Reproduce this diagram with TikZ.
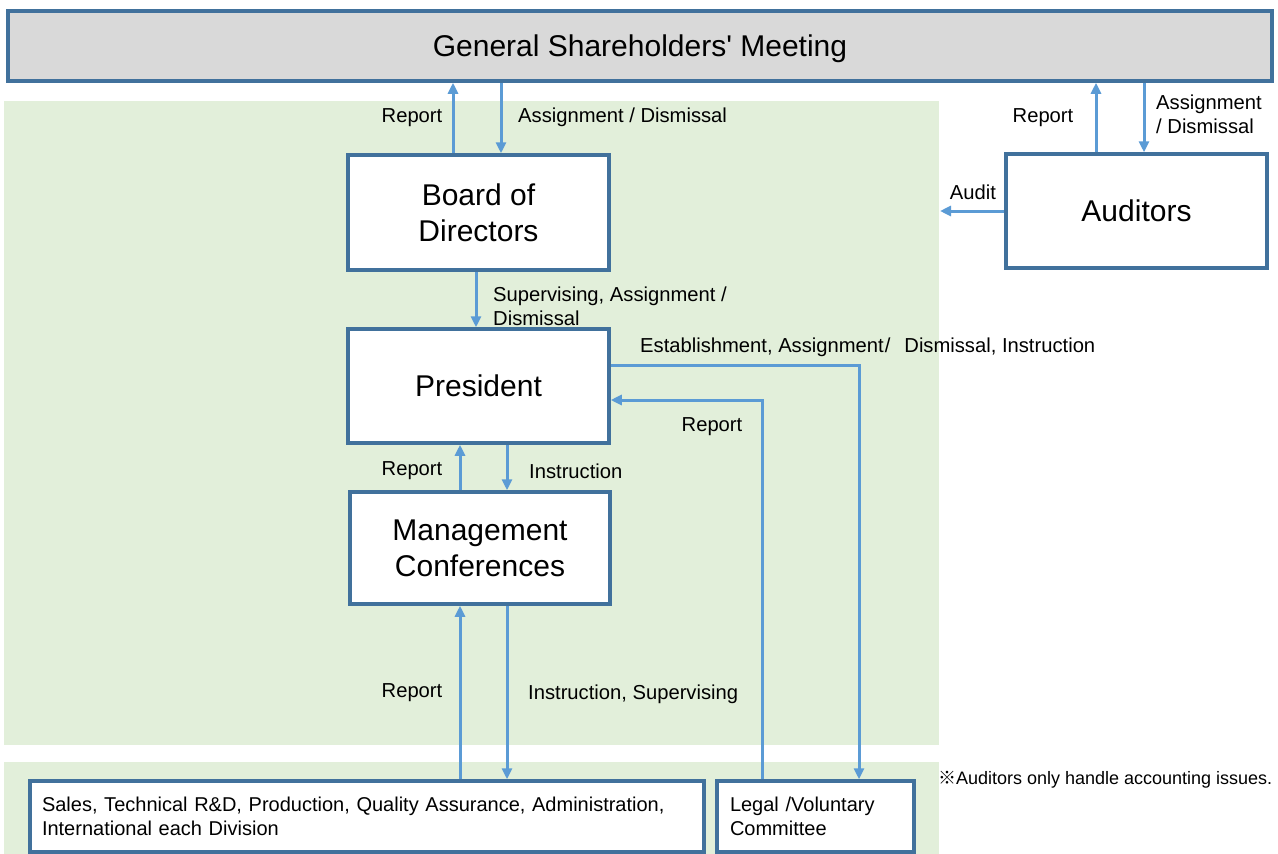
\documentclass[tikz,border=0pt]{standalone}
\usepackage{fontspec}
\setmainfont{Liberation Sans}
\newfontfamily\cjkfont{Noto Sans CJK JP}
\usetikzlibrary{arrows.meta}
\definecolor{bggreen}{HTML}{E2EFDA}
\definecolor{gsmgray}{HTML}{D9D9D9}
\definecolor{boxblue}{HTML}{41719C}
\definecolor{arrblue}{HTML}{5B9BD5}
\tikzset{
  orgbox/.style={draw=boxblue, line width=3.5pt, fill=white, inner sep=0pt, align=center,
    font=\fontsize{30}{36}\selectfont},
  unitbox/.style={draw=boxblue, line width=3.5pt, fill=white, inner sep=0pt, align=left,
    font=\fontsize{20}{24}\selectfont},
  arr/.style={draw=arrblue, line width=3pt, -{Triangle[width=10pt,length=11pt]}},
  lbl/.style={inner sep=0pt, font=\fontsize{20.2}{24}\selectfont},
}
\begin{document}
\begin{tikzpicture}[x=1pt,y=-1pt]
\useasboundingbox (0,0) rectangle (1278,854);
% backgrounds
\fill[bggreen] (4,101) rectangle (939,745);
\fill[bggreen] (4,762) rectangle (939,860);
% boxes
\node[orgbox, fill=gsmgray, minimum width=1264pt, minimum height=70pt] (gsm) at (640,46) {\raisebox{-3pt}[\height][\depth]{General Shareholders\textquotesingle\ Meeting}};
\node[orgbox, minimum width=261pt, minimum height=115pt] (bod) at (478.5,212.5) {Board of\\Directors};
\node[orgbox, minimum width=261pt, minimum height=114pt] (pres) at (478.5,386) {President};
\node[orgbox, minimum width=260pt, minimum height=112pt] (mc) at (480,548) {Management\\Conferences};
\node[orgbox, minimum width=261pt, minimum height=114pt] (aud) at (1136.5,211) {Auditors};
\node[unitbox, minimum width=674pt, minimum height=71pt, text width=650pt] (sales) at (367,816.5)
  {Sales, Technical R\&D, Production, Quality Assurance, Administration,\\International each Division};
\node[unitbox, minimum width=197pt, minimum height=71pt, text width=171pt] (legal) at (815.5,816.5)
  {Legal /Voluntary\\Committee};
\coordinate (auditend) at (940,211);
% connectors
\draw[arr] ([xshift=-25.5pt]bod.north) -- ([xshift=-25.5pt]bod.north |- gsm.south);
\draw[arr] ([xshift=22.5pt]bod.north |- gsm.south) -- ([xshift=22.5pt]bod.north);
\draw[arr] ([xshift=-2.5pt]bod.south) -- ([xshift=-2.5pt]bod.south |- pres.north);
\draw[arr] ([xshift=-40.5pt]aud.north) -- ([xshift=-40.5pt]aud.north |- gsm.south);
\draw[arr] ([xshift=7.5pt]aud.north |- gsm.south) -- ([xshift=7.5pt]aud.north);
\draw[arr] (aud.west) -- (auditend);
\draw[arr] ([yshift=21pt]pres.east) -| ([xshift=43.5pt]legal.north);
\draw[arr] ([xshift=-53.5pt]legal.north) |- ([yshift=-14pt]pres.east);
\draw[arr] ([xshift=-20pt]mc.north) -- ([xshift=-20pt]mc.north |- pres.south);
\draw[arr] ([xshift=27pt]mc.north |- pres.south) -- ([xshift=27pt]mc.north);
\draw[arr] ([xshift=-20pt]mc.south |- sales.north) -- ([xshift=-20pt]mc.south);
\draw[arr] ([xshift=27pt]mc.south) -- ([xshift=27pt]mc.south |- sales.north);
% labels
\node[lbl] (l1) at (412,118) {Report};
\node[lbl, anchor=west] (l2) at (518,117) {Assignment / Dismissal};
\node[lbl, anchor=west, align=left] (l3) at (493,306) {Supervising, Assignment /\\Dismissal};
\node[lbl, anchor=west] (l4) at (640,347) {Establishment, Assignment\hspace{1pt}/\hspace{14pt}Dismissal, Instruction};
\node[lbl] (l5) at (712,427) {Report};
\node[lbl] (l6) at (412,471) {Report};
\node[lbl, anchor=west] (l7) at (529,471) {Instruction};
\node[lbl] (l8) at (412,693) {Report};
\node[lbl, anchor=west] (l9) at (528,694) {Instruction, Supervising};
\node[lbl] (l10) at (1043,118) {Report};
\node[lbl, anchor=west, align=left] (l11) at (1156,114) {Assignment\\/ Dismissal};
\node[lbl] (l12) at (973,192) {Audit};
\node[lbl, anchor=west] (note) at (938,780) {\resizebox{334pt}{!}{{\cjkfont ※}Auditors only handle accounting issues.}};
\end{tikzpicture}
\end{document}
